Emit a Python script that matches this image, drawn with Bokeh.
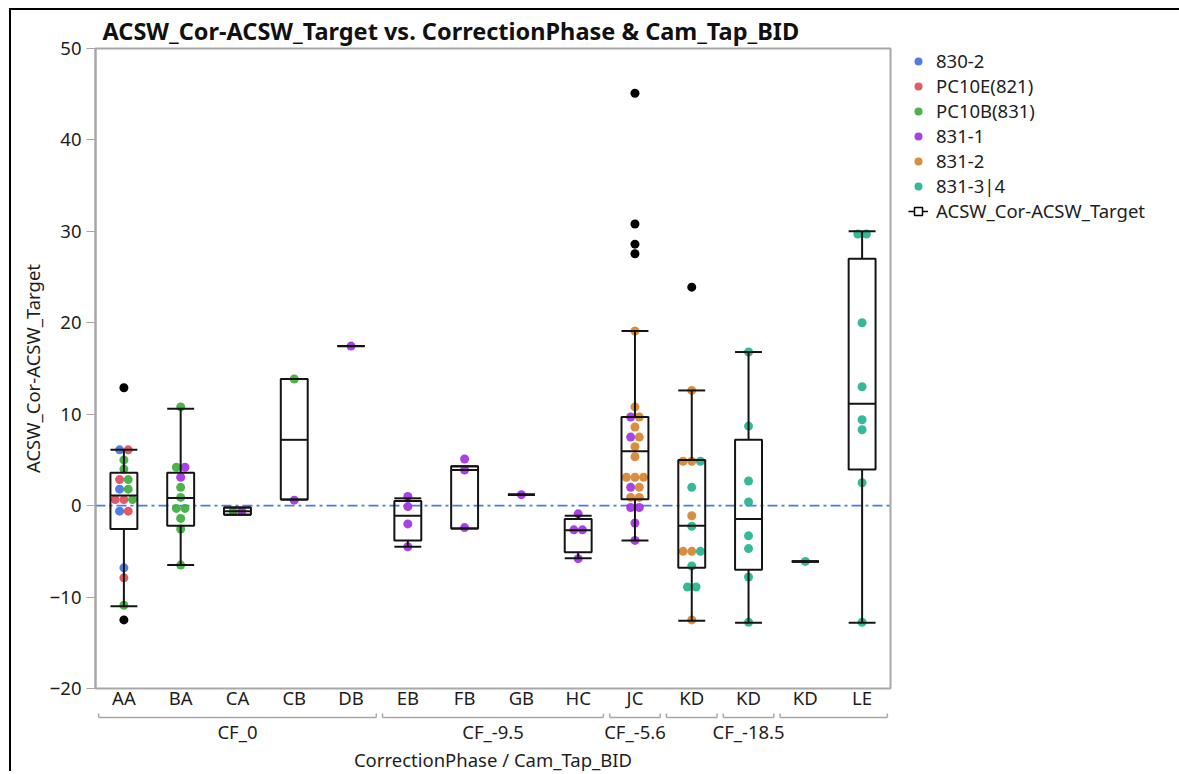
import numpy as np
from bokeh.plotting import figure
from bokeh.layouts import column
from bokeh.models import (ColumnDataSource, FixedTicker, Span, Legend, LegendItem, Range1d)
from bokeh.core.properties import value
from bokeh.embed import file_html
from bokeh.resources import INLINE

FONT = "Noto Sans"
TEXT_COLOR = "#1e1e1e"
FRAME_GRAY = "#a8a8a8"
LABEL_SIZE = "18.5px"

# ---------------------------------------------------------------- data
categories = ["AA", "BA", "CA", "CB", "DB", "EB", "FB", "GB", "HC", "JC", "KD", "KD", "KD", "LE"]
group_labels = ["CF_0", "CF_-9.5", "CF_-5.6", "", "CF_-18.5", ""]
group_sizes = [5, 4, 1, 1, 1, 2]
y_tick_values = [-20, -10, 0, 10, 20, 30, 40, 50]

# outlier box-plot summaries, one entry per category
box_whisker_lo = [-11.0, -6.5, -1.0, 0.66, 17.45, -4.5, -2.5, 1.2, -5.75, -3.8, -12.6, -12.8, -6.1, -12.8]
box_q1 = [-2.55, -2.2, -1.0, 0.66, 17.45, -3.8, -2.5, 1.2, -5.1, 0.7, -6.8, -7.0, -6.1, 3.95]
box_median = [1.1, 0.84, -0.6, 7.2, 17.45, -1.1, 3.9, 1.2, -2.7, 5.95, -2.2, -1.45, -6.1, 11.15]
box_q3 = [3.6, 3.6, -0.2, 13.85, 17.45, 0.5, 4.3, 1.2, -1.45, 9.7, 5.0, 7.2, -6.1, 27.0]
box_whisker_hi = [6.1, 10.6, -0.2, 13.85, 17.45, 0.8, 4.3, 1.2, -1.1, 19.1, 12.6, 16.8, -6.1, 30.0]

# observations per Cam_Tap_BID series (category index, value)
series_names = ["830-2", "PC10E(821)", "PC10B(831)", "831-1", "831-2", "831-3|4"]
series_colors = ["#4372e0", "#df4b5a", "#3cae3c", "#a232e2", "#d6832f", "#23b48e"]

s830_2_cat = [0, 0, 0, 0]
s830_2_val = [6.1, 1.8, -0.6, -6.8]

pc10e_cat = [0, 0, 0, 0, 0, 0]
pc10e_val = [6.1, 2.85, 0.66, 0.66, -0.6, -7.9]

pc10b_cat = [0, 0, 0, 0, 0, 0, 1, 1, 1, 1, 1, 1, 1, 1, 1, 2, 3]
pc10b_val = [5.0, 4.0, 2.85, 1.8, 0.66, -10.9,
             10.8, 4.2, 2.0, 0.9, -0.3, -0.3, -1.4, -2.55, -6.5, -0.6, 13.85]

s831_1_cat = [1, 1, 2, 3, 4, 5, 5, 5, 5, 6, 6, 6, 7, 8, 8, 8, 8, 9, 9, 9, 9, 9, 9, 9]
s831_1_val = [4.2, 3.1, -0.6, 0.6, 17.45, 1.0, -0.1, -2.0, -4.5, 5.1, 3.9, -2.4, 1.2,
              -0.9, -2.65, -2.65, -5.8, 9.7, 7.5, 2.0, -0.2, -0.2, -1.9, -3.8]

s831_2_cat = [9, 9, 9, 9, 9, 9, 9, 9, 9, 9, 9, 9, 9, 10, 10, 10, 10, 10, 10, 10]
s831_2_val = [19.1, 10.8, 9.7, 8.6, 7.5, 6.45, 5.35, 3.1, 3.1, 3.1, 2.0, 0.9, 0.9,
              12.6, 4.85, 4.85, -1.1, -5.0, -5.0, -12.5]

s831_34_cat = [10, 10, 10, 10, 10, 10, 10, 11, 11, 11, 11, 11, 11, 11, 11, 12,
               13, 13, 13, 13, 13, 13, 13, 13]
s831_34_val = [4.85, 2.0, -2.25, -5.0, -6.6, -8.9, -8.9,
               16.8, 8.7, 2.7, 0.4, -3.3, -4.7, -7.8, -12.75, -6.1,
               29.7, 29.7, 20.0, 13.0, 9.4, 8.3, 2.5, -12.75]

outlier_cat = [0, 0, 9, 9, 9, 9, 10]
outlier_val = [12.9, -12.5, 45.1, 30.8, 28.6, 27.55, 23.9]

series_cats = [s830_2_cat, pc10e_cat, pc10b_cat, s831_1_cat, s831_2_cat, s831_34_cat]
series_vals = [s830_2_val, pc10e_val, pc10b_val, s831_1_val, s831_2_val, s831_34_val]

# ---------------------------------------------------------------- layout helpers
DOT_STEP = 0.152     # horizontal spacing of points sharing a row (category units)
BOX_HALF = 0.237     # half width of boxes and whisker caps

# spread points that share a category and value into a centred row
all_pts = [(si, c, v) for si in range(len(series_names))
           for c, v in zip(series_cats[si], series_vals[si])]
rows = {}
for k, (si, c, v) in enumerate(all_pts):
    rows.setdefault((c, round(v, 2)), []).append(k)
offsets = [0.0] * len(all_pts)
for members in rows.values():
    n = len(members)
    for j, k in enumerate(members):
        offsets[k] = (j - (n - 1) / 2) * DOT_STEP

# ---------------------------------------------------------------- main plot
p = figure(frame_width=795, frame_height=640,
           x_range=Range1d(-0.5, len(categories) - 0.5), y_range=Range1d(-20, 50),
           min_border_left=84, min_border_right=281, min_border_top=38, min_border_bottom=2,
           output_backend="svg", toolbar_location=None,
           title="ACSW_Cor-ACSW_Target vs. CorrectionPhase & Cam_Tap_BID")
p.background_fill_color = "white"
p.border_fill_color = "white"
p.outline_line_color = FRAME_GRAY
p.outline_line_width = 2
p.xgrid.visible = False
p.ygrid.visible = False

p.title.text_font = FONT
p.title.text_font_size = "23.5px"
p.title.text_font_style = "bold"
p.title.text_color = "#111111"
p.title.align = "left"
p.title.offset = 7
p.title.standoff = 4

p.yaxis.ticker = FixedTicker(ticks=y_tick_values)
p.yaxis.axis_label = "ACSW_Cor-ACSW_Target"
p.yaxis.axis_label_text_font = FONT
p.yaxis.axis_label_text_font_size = LABEL_SIZE
p.yaxis.axis_label_text_font_style = "normal"
p.yaxis.axis_label_text_color = TEXT_COLOR
p.yaxis.axis_label_standoff = 2
p.yaxis.major_label_text_font = FONT
p.yaxis.major_label_text_font_size = LABEL_SIZE
p.yaxis.major_label_text_color = TEXT_COLOR
p.yaxis.axis_line_color = FRAME_GRAY
p.yaxis.axis_line_width = 2
p.yaxis.major_tick_line_color = FRAME_GRAY
p.yaxis.major_tick_out = 9
p.yaxis.major_tick_in = 0
p.yaxis.minor_tick_line_color = None
p.yaxis.major_label_standoff = 5

p.xaxis.ticker = FixedTicker(ticks=list(range(len(categories))))
p.xaxis.major_label_overrides = {i: c for i, c in enumerate(categories)}
p.xaxis.major_label_text_font = FONT
p.xaxis.major_label_text_font_size = LABEL_SIZE
p.xaxis.major_label_text_color = TEXT_COLOR
p.xaxis.axis_line_color = None
p.xaxis.major_tick_line_color = None
p.xaxis.minor_tick_line_color = None
p.xaxis.major_tick_out = 0
p.xaxis.major_tick_in = 0
p.xaxis.major_label_standoff = -4

zero_line = Span(location=0, dimension="width", line_color="#4479f7",
                 line_dash="10 4 3 4", line_width=1.6, level="underlay")
p.add_layout(zero_line)

legend_items = []
for si, name in enumerate(series_names):
    ks = [k for k, pt in enumerate(all_pts) if pt[0] == si]
    src = ColumnDataSource(dict(
        x=[all_pts[k][1] + offsets[k] for k in ks],
        y=[all_pts[k][2] for k in ks]))
    r = p.scatter("x", "y", source=src, size=9, fill_color=series_colors[si],
                  line_color=None, fill_alpha=0.92)
    legend_items.append(LegendItem(label=name, renderers=[r]))

# box plots
xc = np.arange(len(categories), dtype=float)
box_src = ColumnDataSource(dict(
    x=xc, left=xc - BOX_HALF, right=xc + BOX_HALF,
    lo=box_whisker_lo, q1=box_q1, med=box_median, q3=box_q3, hi=box_whisker_hi))
BOX_LINE = dict(line_color="#141414", line_width=2)
p.segment("x", "q3", "x", "hi", source=box_src, **BOX_LINE)
p.segment("x", "lo", "x", "q1", source=box_src, **BOX_LINE)
p.segment("left", "hi", "right", "hi", source=box_src, **BOX_LINE)
p.segment("left", "lo", "right", "lo", source=box_src, **BOX_LINE)
p.quad(left="left", right="right", bottom="q1", top="q3", source=box_src,
       fill_color=None, **BOX_LINE)
p.segment("left", "med", "right", "med", source=box_src, **BOX_LINE)

p.scatter(outlier_cat, outlier_val, size=9, fill_color="black", line_color=None)

# legend icon for the box-plot element (renderers hold no drawable point)
icon_src = ColumnDataSource(dict(x=[np.nan], y=[np.nan]))
icon_stem = p.hspan(y="y", source=icon_src, line_color="black", line_width=1.5)
icon_box = p.scatter("x", "y", source=icon_src, marker="square", size=10,
                     fill_color="white", line_color="black", line_width=1.5)
legend_items.append(LegendItem(label="ACSW_Cor-ACSW_Target", renderers=[icon_stem, icon_box]))

legend = Legend(items=legend_items, location=(18, 465), orientation="vertical",
                glyph_width=20, glyph_height=20, label_height=20, spacing=0,
                padding=0, margin=0, label_standoff=8,
                label_text_font=FONT, label_text_font_size=LABEL_SIZE,
                label_text_color=TEXT_COLOR,
                border_line_color=None, background_fill_alpha=0)
p.add_layout(legend, "right")

# ---------------------------------------------------------------- group strip
STRIP_H = 59
s = figure(frame_width=795, frame_height=STRIP_H, x_range=p.x_range, y_range=Range1d(STRIP_H, 0),
           min_border_left=84, min_border_right=281, min_border_top=0, min_border_bottom=0,
           output_backend="svg", toolbar_location=None)
s.outline_line_color = None
s.axis.visible = False
s.xgrid.visible = False
s.ygrid.visible = False
s.border_fill_color = "white"

TXT = dict(text_font=value(FONT), text_font_size=LABEL_SIZE, text_color=TEXT_COLOR,
           text_align="center", text_baseline="middle")

starts = np.cumsum([0] + group_sizes[:-1])
ends = starts + np.array(group_sizes) - 1
INSET = 0.055
bx0 = starts - 0.5 + INSET
bx1 = ends + 0.5 - INSET
BRACKET = dict(line_color=FRAME_GRAY, line_width=1.5)
s.segment(bx0, [5] * len(bx0), bx1, [5] * len(bx0), **BRACKET)
s.segment(bx0, [5] * len(bx0), bx0, [1] * len(bx0), **BRACKET)
s.segment(bx1, [5] * len(bx1), bx1, [1] * len(bx1), **BRACKET)
s.text((starts + ends) / 2, [19] * len(starts), text=group_labels, **TXT)
s.text([(len(categories) - 1) / 2], [47], text=["CorrectionPhase / Cam_Tap_BID"], **TXT)

layout = column(p, s, spacing=0,
                styles={"margin-left": "9px", "margin-top": "8px",
                        "border-top": "2px solid black", "border-left": "2px solid black",
                        "border-right": "2px solid black"})

open("out.html", "w").write(file_html(layout, INLINE))
